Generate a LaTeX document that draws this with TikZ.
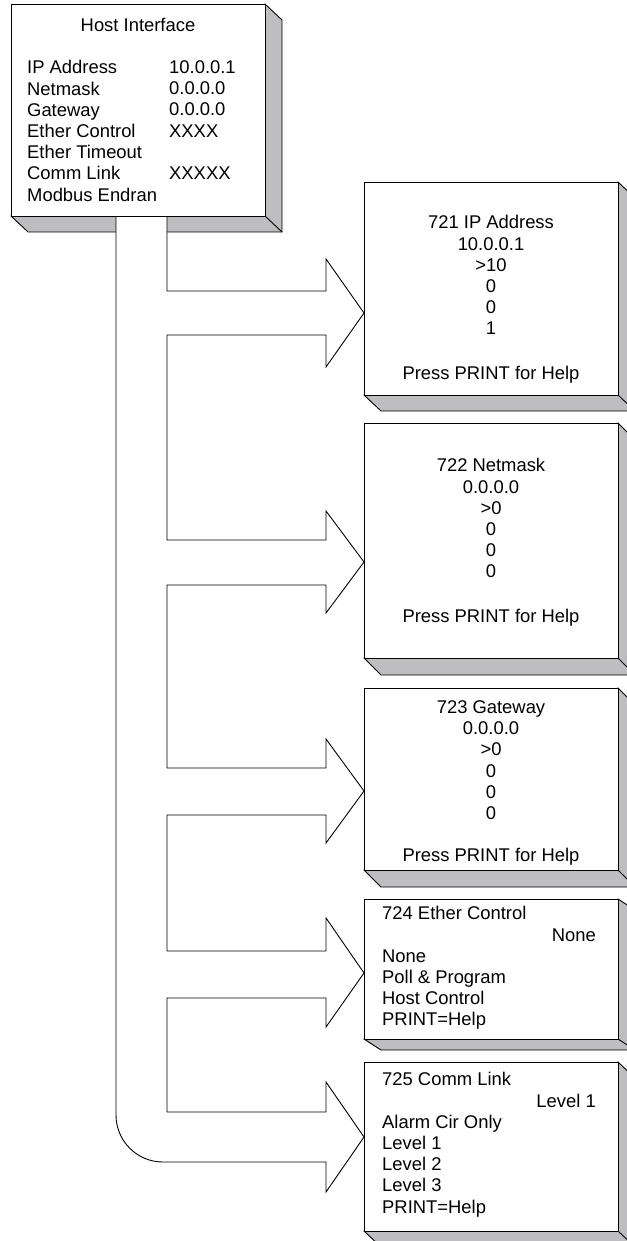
\documentclass[tikz,border=0pt]{standalone}
\usepackage{fontspec}
\setmainfont{Liberation Sans}
\usetikzlibrary{calc,backgrounds}
\definecolor{shadegray}{RGB}{190,190,192}
\tikzset{
  screen/.style={draw=black, fill=white, line width=0.9pt, rectangle, inner sep=0pt, outer sep=0pt, anchor=north west},
  shadefill/.style={fill=shadegray, draw=black, line width=0.9pt, line join=miter},
  pipe/.style={draw=black, fill=white, line width=0.9pt, line join=miter},
  ctxt/.style={inner sep=0pt, align=center, anchor=north},
  ltxt/.style={inner sep=0pt, align=left, anchor=north west},
  btxt/.style={inner sep=0pt, anchor=base},
  rtxt/.style={inner sep=0pt, anchor=base east},
}
\newcommand\boxshade[3]{%
  \filldraw[shadefill] (#1.south west) -- ++(#2,#3) -- ($(#1.south east)+(#2,#3)$)
    -- ($(#1.north east)+(#2,#3)$) -- (#1.north east) -- cycle;
  \draw[line width=0.9pt] (#1.south east) -- ++(#2,#3);}
\begin{document}
\begin{tikzpicture}[x=1pt,y=-1pt,font=\fontsize{18.4}{21.2}\selectfont]
\clip (0,0) rectangle (626,1241);
% screens
\node[screen, minimum width=254pt, minimum height=212pt] (host) at (11,4) {};
\node[screen, minimum width=254pt, minimum height=213pt] (b1) at (364,182) {};
\node[screen, minimum width=254pt, minimum height=235pt] (b2) at (364,423) {};
\node[screen, minimum width=254pt, minimum height=182pt] (b3) at (364,688) {};
\node[screen, minimum width=254pt, minimum height=140pt] (b4) at (364,899) {};
\node[screen, minimum width=254pt, minimum height=169pt] (b5) at (364,1062) {};
% shadows and pipe behind the screens
\begin{pgfonlayer}{background}
\boxshade{host}{17}{16}
\boxshade{b1}{17}{16}
\boxshade{b2}{17}{17}
\boxshade{b3}{17}{17}
\boxshade{b4}{17}{11}
\boxshade{b5}{17}{16}
\filldraw[pipe] (116,216) -- (116,1115) .. controls (116,1141) and (137,1162) .. (163,1162)
  -- (326,1162) -- (326,1192) -- (364,1137) -- (326,1082) -- (326,1112)
  -- (167,1112) -- (167,998) -- (326,998) -- (326,1027) -- (364,973) -- (326,918) -- (326,951)
  -- (167,951) -- (167,815) -- (326,815) -- (326,843) -- (364,791) -- (326,739) -- (326,768)
  -- (167,768) -- (167,585) -- (326,585) -- (326,613) -- (364,562) -- (326,511) -- (326,540)
  -- (167,540) -- (167,335) -- (326,335) -- (326,367) -- (364,313) -- (326,259) -- (326,291)
  -- (167,291) -- (167,216) -- cycle;
\end{pgfonlayer}
% host texts
\node[btxt] (hostT) at (138,31.6) {Host Interface};
\node[ltxt] (hostL) at (27,60.4) {IP Address\\Netmask\\Gateway\\Ether Control\\Ether Timeout\\Comm Link\\Modbus Endran};
\node[ltxt] (hostV) at (169,60.4) {10.0.0.1\\0.0.0.0\\0.0.0.0\\XXXX\\\mbox{}\\XXXXX};
% 721
\node[ctxt] (t1) at (491,215.4) {721 IP Address\\10.0.0.1\\>10\\0\\0\\1};
\node[btxt] (h1) at (491,379.6) {Press PRINT for Help};
% 722
\node[ctxt] (t2) at (491,458.4) {722 Netmask\\0.0.0.0\\>0\\0\\0\\0};
\node[btxt] (h2) at (491,622.6) {Press PRINT for Help};
% 723
\node[ctxt] (t3) at (491,700.4) {723 Gateway\\0.0.0.0\\>0\\0\\0\\0};
\node[btxt] (h3) at (491,861.6) {Press PRINT for Help};
% 724
\node[ltxt] (t4) at (382,906.4) {724 Ether Control\\\mbox{}\\None\\Poll \& Program\\Host Control\\PRINT=Help};
\node[rtxt] (v4) at (596,941.6) {None};
% 725
\node[ltxt] (t5) at (382,1072.4) {725 Comm Link\\\mbox{}\\Alarm Cir Only\\Level 1\\Level 2\\Level 3\\PRINT=Help};
\node[rtxt] (v5) at (596,1107.6) {Level 1};
\end{tikzpicture}
\end{document}
